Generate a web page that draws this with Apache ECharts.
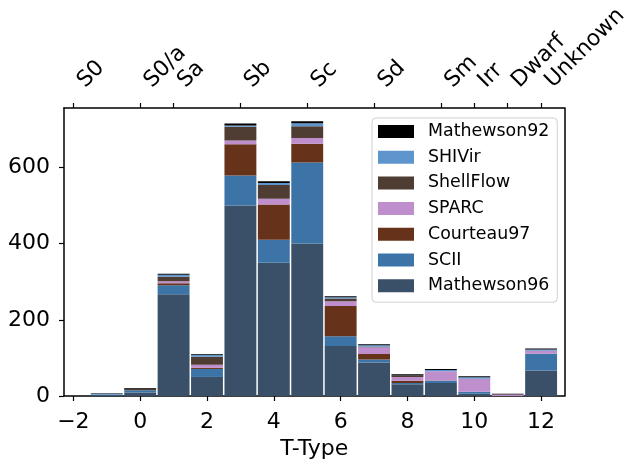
<!DOCTYPE html>
<html><head><meta charset="utf-8">
<script src="https://cdn.jsdelivr.net/npm/echarts@6/dist/echarts.min.js"></script>
<style>html,body{margin:0;padding:0;background:#fff}#c{width:631px;height:465px}</style>
</head><body><div id="c"></div>
<script>
var tTypes = [-1, 0, 1, 2, 3, 4, 5, 6, 7, 8, 9, 10, 11, 12];
var mathewson96 = [2, 9, 267, 50, 500, 350, 400, 131, 88, 31, 34, 6, 0, 67];
var scii        = [2, 6, 24, 21, 79, 60, 213, 26, 8, 3, 6, 5, 0, 44];
var courteau97  = [0, 0, 5, 3, 82, 93, 49, 79, 14, 6, 1, 0, 0, 0];
var sparc       = [0, 0, 5, 8, 10, 15, 15, 13, 18, 10, 24, 34, 4, 8];
var shellFlow   = [0, 4, 12, 21, 36, 36, 31, 7, 1, 4, 0, 0, 0, 0];
var shivir      = [2, 0, 5, 5, 3, 5, 8, 3, 4, 0, 3, 4, 0, 3];
var mathewson92 = [1, 2, 3, 2, 5, 5, 5, 3, 3, 3, 3, 3, 2, 3];
var bottomTicks = [-2, 0, 2, 4, 6, 8, 10, 12];
var topTickValues = [-2, 0, 1, 3, 5, 7, 9, 10, 11, 12];
var topTickNames = ['S0', 'S0/a', 'Sa', 'Sb', 'Sc', 'Sd', 'Sm', 'Irr', 'Dwarf', 'Unknown'];
var yTicks = [0, 200, 400, 600];

var seriesDefs = [
  {name: 'Mathewson96', data: mathewson96, color: '#3a5069'},
  {name: 'SCII', data: scii, color: '#3d74a7'},
  {name: 'Courteau97', data: courteau97, color: '#66331a'},
  {name: 'SPARC', data: sparc, color: '#bf8ecc'},
  {name: 'ShellFlow', data: shellFlow, color: '#4f3d33'},
  {name: 'SHIVir', data: shivir, color: '#5f95cd'},
  {name: 'Mathewson92', data: mathewson92, color: '#000000'}
];

var FONT = 'DejaVu Sans';
var chart = echarts.init(document.getElementById('c'), null, {renderer: 'canvas'});
var axisLine = {show: true, onZero: false, lineStyle: {color: '#000', width: 1.5}};
var tick = {show: true, length: 5, lineStyle: {color: '#000', width: 1.2}};

// cumulative stacking of the counts
var base = tTypes.map(function () { return 0; });
var series = seriesDefs.map(function (s) {
  var data = tTypes.map(function (t, i) {
    var lo = base[i], hi = base[i] + s.data[i];
    base[i] = hi;
    return [t, lo, hi];
  });
  return {
    name: s.name, type: 'custom', xAxisIndex: 0, yAxisIndex: 0,
    itemStyle: {color: s.color},
    encode: {x: 0, y: [1, 2]},
    data: data,
    renderItem: function (params, api) {
      var x = api.value(0), lo = api.value(1), hi = api.value(2);
      if (hi <= lo) return null;
      var p0 = api.coord([x, lo]);
      var p1 = api.coord([x, hi]);
      var w = api.size([0.955, 0])[0];
      return {
        type: 'rect',
        shape: {x: p0[0] - w / 2, y: p1[1], width: w, height: p0[1] - p1[1]},
        style: {fill: s.color}
      };
    }
  };
});

var option = {
  animation: false,
  backgroundColor: '#fff',
  grid: {left: 64, top: 108, right: 65, bottom: 62, containLabel: false},
  legend: {
    orient: 'vertical', left: 372, top: 118,
    data: ['Mathewson92', 'SHIVir', 'ShellFlow', 'SPARC', 'Courteau97', 'SCII', 'Mathewson96'],
    itemWidth: 36, itemHeight: 13, itemGap: 8.7,
    icon: 'rect',
    padding: [5, 8, 8, 6],
    borderColor: '#d0d0d0', borderWidth: 1, borderRadius: 4,
    backgroundColor: 'rgba(255,255,255,0.8)',
    textStyle: {fontFamily: FONT, fontSize: 17.4, lineHeight: 17, color: '#000', padding: [0, 0, 0, 9]}
  },
  xAxis: [
    {type: 'value', position: 'bottom', min: -2.28, max: 12.7,
     axisLine: axisLine, axisTick: Object.assign({customValues: bottomTicks}, tick),
     splitLine: {show: false},
     axisLabel: {customValues: bottomTicks, fontFamily: FONT, fontSize: 22, color: '#000', margin: 15,
       formatter: function (v) { return v < 0 ? '\u2212' + Math.abs(v) : String(v); }},
     name: 'T-Type', nameLocation: 'middle', nameGap: 42,
     nameTextStyle: {fontFamily: FONT, fontSize: 22, color: '#000'}},
    {type: 'value', position: 'top', min: -2.28, max: 12.7,
     axisLine: axisLine, axisTick: Object.assign({customValues: topTickValues}, tick),
     splitLine: {show: false},
     axisLabel: {customValues: topTickValues, rotate: -45, fontFamily: FONT, fontSize: 22, color: '#000',
       margin: 16, padding: [0, 0, 0, 11],
       formatter: function (v) { var i = topTickValues.indexOf(v); return i >= 0 ? topTickNames[i] : ''; }}}
  ],
  yAxis: [
    {type: 'value', min: 0, max: 756, position: 'left',
     axisLine: axisLine, axisTick: Object.assign({customValues: yTicks}, tick),
     splitLine: {show: false},
     axisLabel: {customValues: yTicks, fontFamily: FONT, fontSize: 22, color: '#000', margin: 14}},
    {type: 'value', min: 0, max: 756, position: 'right',
     axisLine: axisLine, axisTick: {show: false}, axisLabel: {show: false}, splitLine: {show: false}}
  ],
  series: series
};
chart.setOption(option);
</script></body></html>
